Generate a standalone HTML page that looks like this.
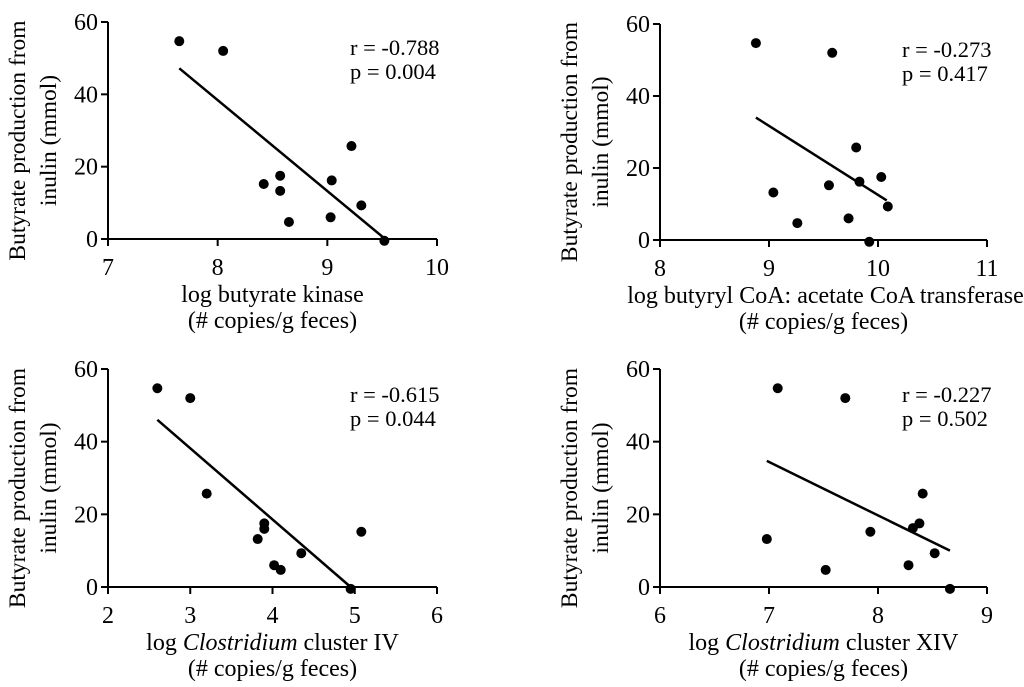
<!DOCTYPE html>
<html><head><meta charset="utf-8"><style>
html,body{margin:0;padding:0;background:#fff}
svg{display:block;font-family:"Liberation Serif",serif}
</style></head><body>
<svg id="chart" width="1024" height="687" viewBox="0 0 1024 687"></svg>
<script>
const yTicks = [0, 20, 40, 60];
const p1Ticks = [7, 8, 9, 10];
const p1X = [7.65, 8.05, 8.42, 8.57, 8.57, 8.65, 9.03, 9.04, 9.22, 9.31, 9.52];
const p1Y = [54.7, 52, 15.2, 17.5, 13.3, 4.7, 6, 16.2, 25.7, 9.3, -0.5];
const p1Fit = [[7.65, 47.2], [9.52, 0.2]];
const p2Ticks = [8, 9, 10, 11];
const p2X = [8.88, 9.58, 9.04, 9.26, 9.55, 9.73, 9.8, 9.83, 10.03, 10.09, 9.92];
const p2Y = [54.7, 52, 13.2, 4.7, 15.2, 6, 25.7, 16.2, 17.5, 9.3, -0.5];
const p2Fit = [[8.88, 34], [10.08, 11]];
const p3Ticks = [2, 3, 4, 5, 6];
const p3X = [2.6, 3.0, 3.2, 3.82, 3.9, 3.9, 4.02, 4.1, 4.35, 5.08, 4.95];
const p3Y = [54.7, 52, 25.7, 13.2, 16, 17.5, 6, 4.7, 9.3, 15.2, -0.5];
const p3Fit = [[2.6, 46], [4.95, 0]];
const p4Ticks = [6, 7, 8, 9];
const p4X = [7.08, 7.7, 6.98, 7.52, 7.93, 8.28, 8.32, 8.38, 8.41, 8.52, 8.66];
const p4Y = [54.7, 52, 13.2, 4.7, 15.2, 6, 16.2, 17.5, 25.7, 9.3, -0.5];
const p4Fit = [[6.98, 34.7], [8.66, 10]];

const NS = 'http://www.w3.org/2000/svg';
const svg = document.getElementById('chart');
function mk(tag, attrs, parent) {
  const e = document.createElementNS(NS, tag);
  for (const k in attrs) e.setAttribute(k, attrs[k]);
  (parent || svg).appendChild(e);
  return e;
}
const panels = [
  {id:'kinase', ticks:p1Ticks, xs:p1X, ys:p1Y, fit:p1Fit, x0:108, x1:437, y0:239, y1:22, r:'r = -0.788', p:'p = 0.004', xt:['log butyrate kinase'], ttx:[15,48]},
  {id:'transferase', ticks:p2Ticks, xs:p2X, ys:p2Y, fit:p2Fit, x0:660, x1:987, y0:240, y1:24, r:'r = -0.273', p:'p = 0.417', xt:['log butyryl CoA: acetate CoA transferase'], ttx:[567,600]},
  {id:'cluster-iv', ticks:p3Ticks, xs:p3X, ys:p3Y, fit:p3Fit, x0:108, x1:437, y0:587, y1:369, r:'r = -0.615', p:'p = 0.044', xt:['IV'], ttx:[15,48]},
  {id:'cluster-xiv', ticks:p4Ticks, xs:p4X, ys:p4Y, fit:p4Fit, x0:660, x1:987, y0:587, y1:369, r:'r = -0.227', p:'p = 0.502', xt:['XIV'], ttx:[567,600]}
];
panels.forEach(P => {
  const g = mk('g', {});
  
  
  const tmin = P.ticks[0], tmax = P.ticks[P.ticks.length-1];
  const sx = v => P.x0 + (v - tmin) / (tmax - tmin) * (P.x1 - P.x0);
  const sy = v => P.y0 - v / 60 * (P.y0 - P.y1);
  const ya = mk('line', {x1:P.x0, y1:P.y1, x2:P.x0, y2:P.y0, stroke:'#000','stroke-width':2}, g);
  
  
  const xa = mk('line', {x1:P.x0, y1:P.y0, x2:P.x1, y2:P.y0, stroke:'#000','stroke-width':2}, g);
  
  
  yTicks.forEach(t => {
    mk('line', {x1:P.x0-7, y1:sy(t), x2:P.x0, y2:sy(t), stroke:'#000','stroke-width':2}, g);
    const tx = mk('text', {x:P.x0-10, y:sy(t)+8, 'text-anchor':'end','font-size':24}, g);
    tx.textContent = t;
    
    
  });
  P.ticks.forEach(t => {
    mk('line', {x1:sx(t), y1:P.y0, x2:sx(t), y2:P.y0+7, stroke:'#000','stroke-width':2}, g);
    const tx = mk('text', {x:sx(t), y:P.y0+36, 'text-anchor':'middle','font-size':24}, g);
    tx.textContent = t;
    
    
  });
  const fl = mk('line', {x1:sx(P.fit[0][0]), y1:sy(P.fit[0][1]), x2:sx(P.fit[1][0]), y2:sy(P.fit[1][1]), stroke:'#000','stroke-width':2.5}, g);
  
  
  P.xs.forEach((x, i) => {
    const c = mk('circle', {cx:sx(x), cy:sy(P.ys[i]), r:5, fill:'#000'}, g);
    
    
  });
  const ax = P.x0 + 242;
  const rt = mk('text', {x:ax, y:P.y1+33, 'font-size':22.5}, g);
  rt.textContent = P.r;
  
  
  const pt = mk('text', {x:ax, y:P.y1+57, 'font-size':22.5}, g);
  pt.textContent = P.p;
  
  
  const cy = (P.y0 + P.y1) / 2 + 10;
  const yt = mk('text', {'font-size':23.5,'text-anchor':'middle', transform:`translate(${P.ttx[0]+10},${cy}) rotate(-90)`}, g);
  yt.textContent = 'Butyrate production from';
  
  
  const yt2 = mk('text', {'font-size':23.5,'text-anchor':'middle', transform:`translate(${P.ttx[1]+8},${cy}) rotate(-90)`}, g);
  yt2.textContent = 'inulin (mmol)';
  
  
  const mx = (P.x0 + P.x1) / 2;
  const xt = mk('text', {x:mx + (P.id === 'transferase' ? 2 : 0), y:P.y0+63, 'text-anchor':'middle','font-size':24}, g);
  if (P.id.startsWith('cluster')) {
    xt.appendChild(document.createTextNode('log '));
    const it = mk('tspan', {'font-style':'italic'}, xt);
    it.textContent = 'Clostridium';
    xt.appendChild(document.createTextNode(' cluster ' + P.xt[0]));
  } else {
    xt.textContent = P.xt[0];
  }
  
  
  const xt2 = mk('text', {x:mx, y:P.y0+89, 'text-anchor':'middle','font-size':24}, g);
  xt2.textContent = '(# copies/g feces)';
  
  
});
</script>
</body></html>
